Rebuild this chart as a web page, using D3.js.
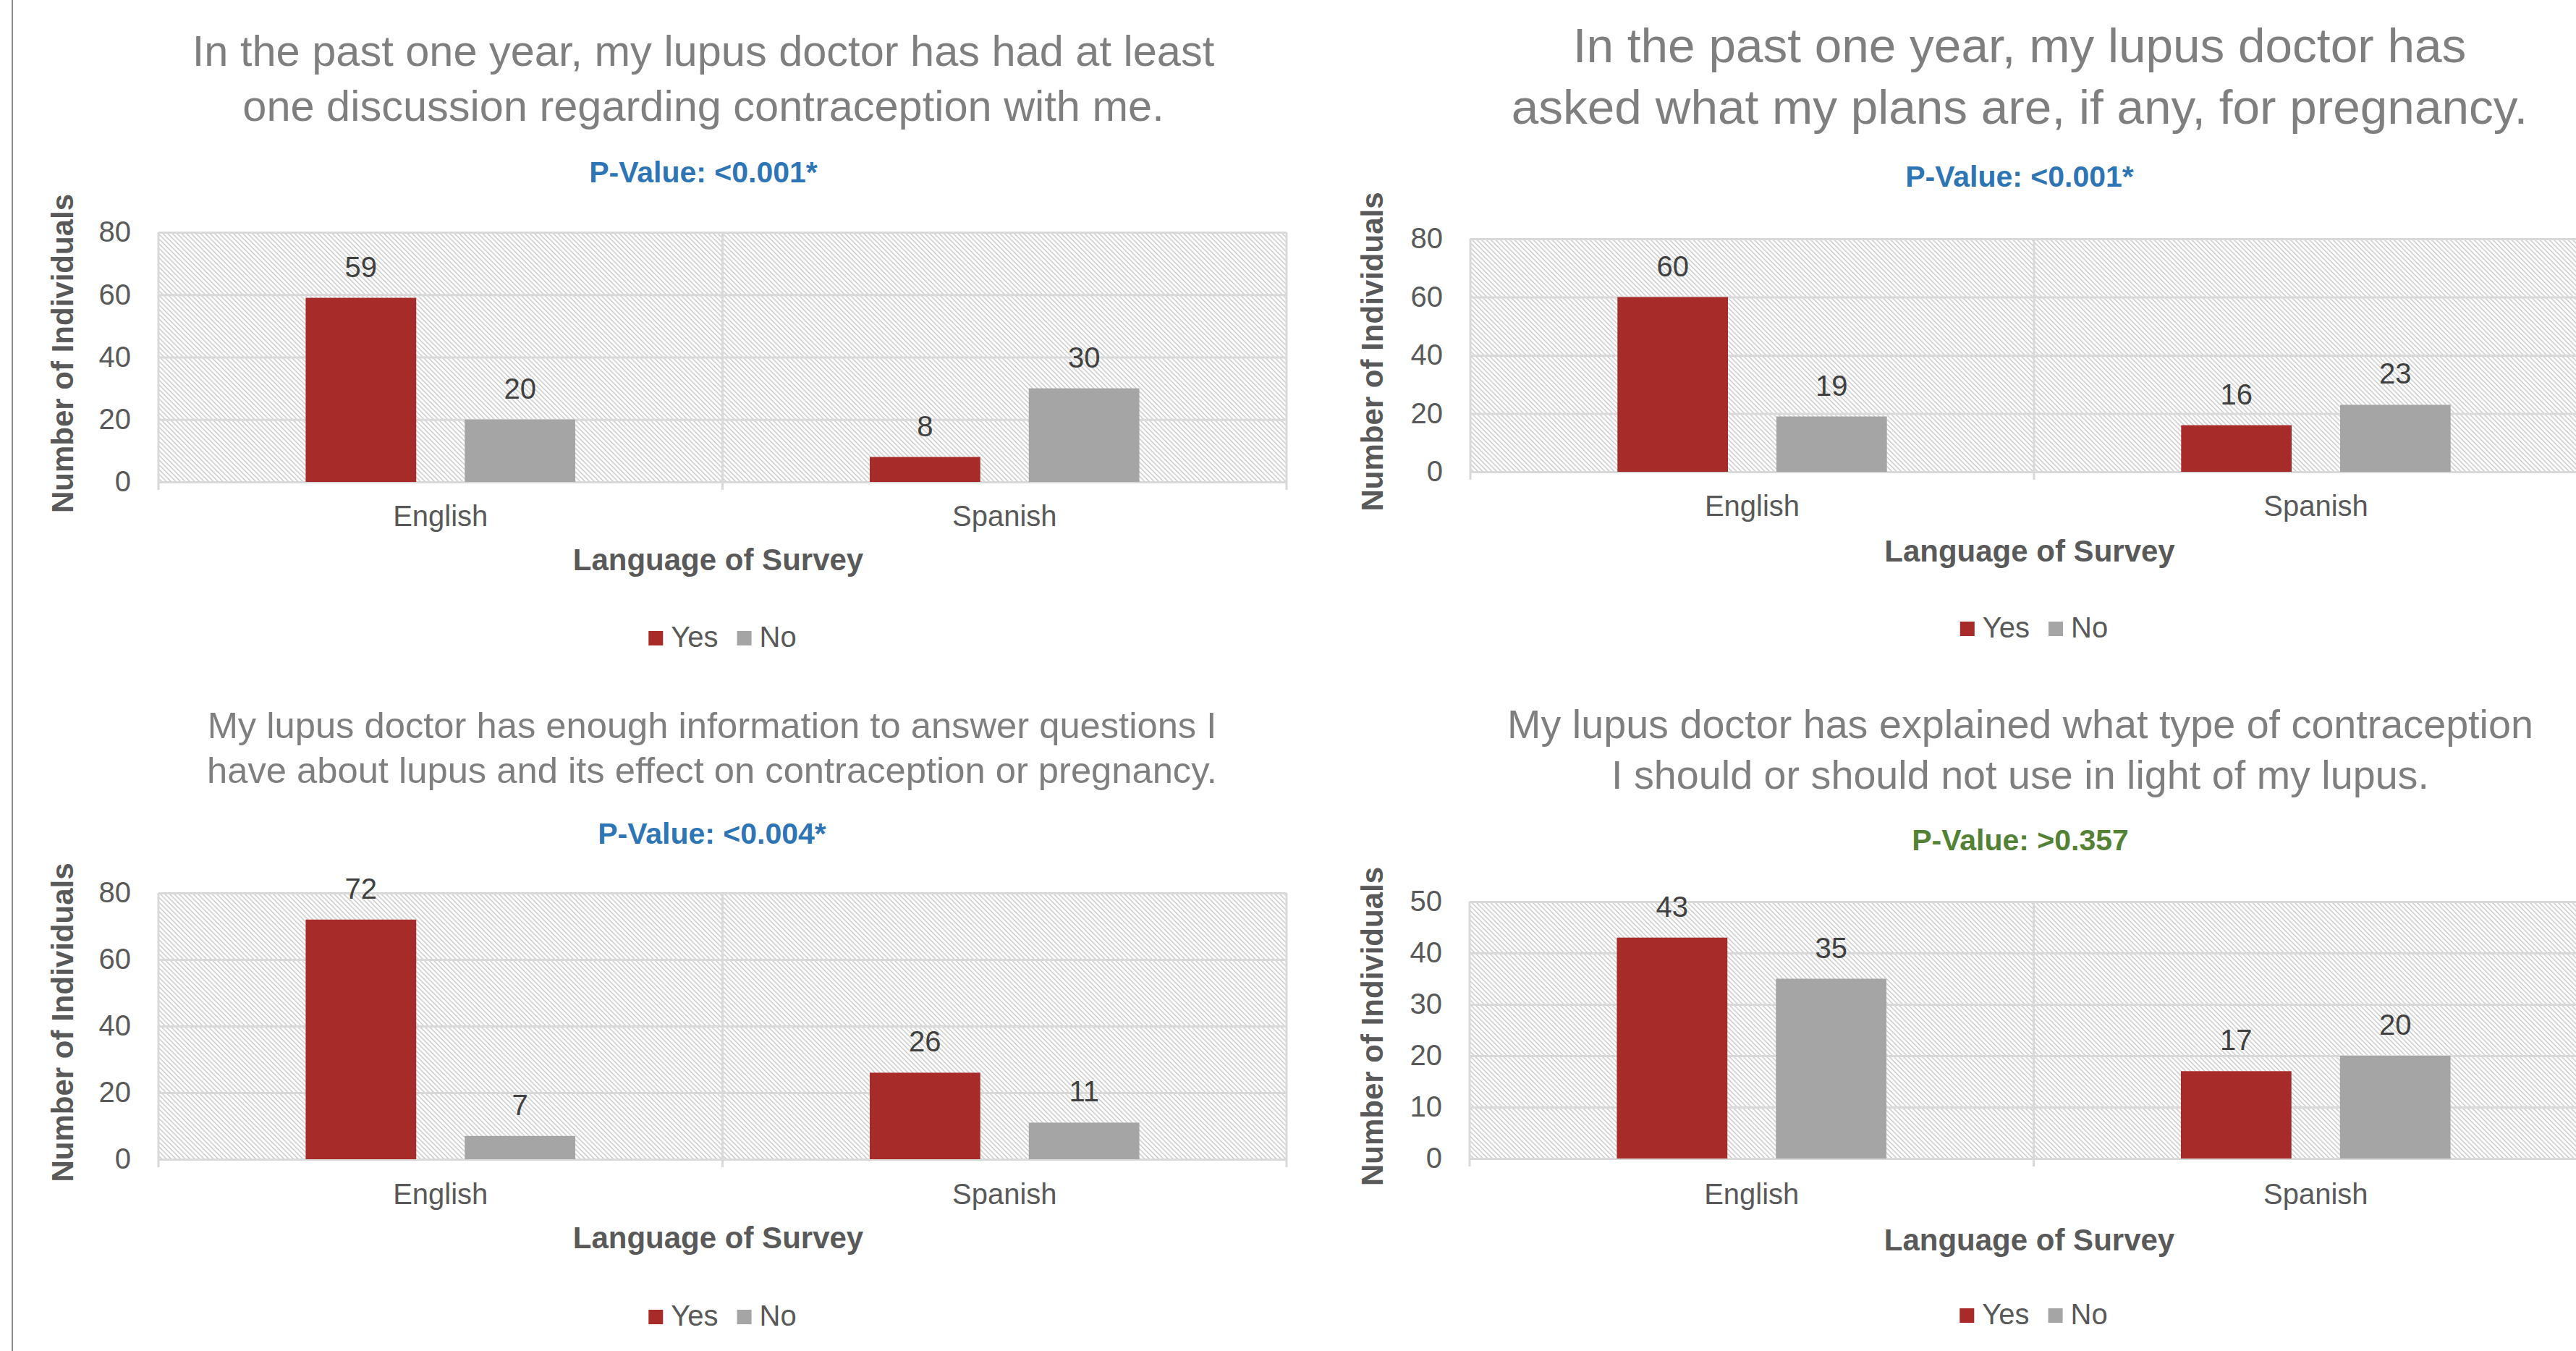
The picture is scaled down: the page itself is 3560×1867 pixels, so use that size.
<!DOCTYPE html>
<html>
<head>
<meta charset="utf-8">
<script src="https://cdn.jsdelivr.net/npm/d3@7"></script>
<style>
  body { margin: 0; background: #fff; }
  svg { display: block; font-family: "Liberation Sans", Arial, sans-serif; }
</style>
</head>
<body>
<div id="chart"></div>
<script>
// Values
const categories = ["English", "Spanish"];
const seriesNames = ["Yes", "No"];
const chartTitles = [
  ["In the past one year, my lupus doctor has had at least", "one discussion regarding contraception with me."],
  ["In the past one year, my lupus doctor has", "asked what my plans are, if any, for pregnancy."],
  ["My lupus doctor has enough information to answer questions I", "have about lupus and its effect on contraception or pregnancy."],
  ["My lupus doctor has explained what type of contraception", "I should or should not use in light of my lupus."]
];
const pValueLabels = ["P-Value: <0.001*", "P-Value: <0.001*", "P-Value: <0.004*", "P-Value: >0.357"];
const yesCounts = [[59, 8], [60, 16], [72, 26], [43, 17]];
const noCounts = [[20, 30], [19, 23], [7, 11], [35, 20]];
const yTickValues = [
  [0, 20, 40, 60, 80],
  [0, 20, 40, 60, 80],
  [0, 20, 40, 60, 80],
  [0, 10, 20, 30, 40, 50]
];
const xAxisTitle = "Language of Survey";
const yAxisTitle = "Number of Individuals";

// Layout (pixels in the 3560x1867 page)
const W = 3560, H = 1867;
const color = d3.scaleOrdinal().domain(seriesNames).range(["#a72b28", "#a5a5a5"]);
const pColors = ["#2e75b6", "#2e75b6", "#2e75b6", "#548235"];
const panels = [
  { left: 219, right: 1778, top: 321, bottom: 666, cx: 972, titleY: [91, 167], titleSize: 59.5, pY: 252, yTitleX: 86, xLabelY: 727, xTitleY: 788, legendY: 894 },
  { left: 2032, right: 3590, top: 330, bottom: 652, cx: 2791, titleY: [86, 171], titleSize: 67.5, pY: 258, yTitleX: 1896, xLabelY: 713, xTitleY: 776, legendY: 881 },
  { left: 219, right: 1778, top: 1234, bottom: 1602, cx: 984, titleY: [1020, 1082], titleSize: 50.7, pY: 1166, yTitleX: 86, xLabelY: 1664, xTitleY: 1725, legendY: 1832 },
  { left: 2031, right: 3590, top: 1246, bottom: 1601, cx: 2792, titleY: [1020, 1090], titleSize: 55.7, pY: 1175, yTitleX: 1896, xLabelY: 1664, xTitleY: 1728, legendY: 1830 }
];
const labelSize = 40, boldSize = 42;

const svg = d3.select("#chart").append("svg")
  .attr("width", W)
  .attr("height", H);

svg.append("rect").attr("width", W).attr("height", H).attr("fill", "#fff");

// diagonal hatch used as plot area fill
const hatch = svg.append("defs").append("pattern")
  .attr("id", "hatch")
  .attr("patternUnits", "userSpaceOnUse")
  .attr("width", 6.5)
  .attr("height", 6.5);
hatch.append("rect").attr("width", 6.5).attr("height", 6.5).attr("fill", "#fff");
hatch.append("path")
  .attr("d", "M-1,-1 L7.5,7.5 M-1,5.5 L1,7.5 M5.5,-1 L7.5,1")
  .attr("stroke", "#c6c6c6")
  .attr("stroke-width", 1.4);

// thin frame line on the left edge
svg.append("line")
  .attr("x1", 17).attr("x2", 17)
  .attr("y1", 0).attr("y2", H)
  .attr("stroke", "#8c8c8c")
  .attr("stroke-width", 2);

function drawPanel(i) {
  const p = panels[i];
  const g = svg.append("g").attr("class", "panel");
  const data = categories.map((c, j) => ({ category: c, values: [
    { series: "Yes", value: yesCounts[i][j] },
    { series: "No", value: noCounts[i][j] }
  ] }));
  const ticks = yTickValues[i];

  const x0 = d3.scaleBand().domain(categories).range([p.left, p.right]);
  const x1 = d3.scaleBand().domain(seriesNames)
    .range([0, x0.bandwidth()])
    .paddingInner(0.305)
    .paddingOuter(0.9255);
  const y = d3.scaleLinear().domain([0, d3.max(ticks)]).range([p.bottom, p.top]);

  // titles
  g.selectAll(".title")
    .data(chartTitles[i])
    .enter().append("text")
    .attr("class", "title")
    .attr("x", p.cx)
    .attr("y", (d, k) => p.titleY[k])
    .attr("text-anchor", "middle")
    .style("font-size", p.titleSize + "px")
    .attr("fill", "#7f7f7f")
    .text(d => d);

  g.append("text")
    .attr("x", p.cx)
    .attr("y", p.pY)
    .attr("text-anchor", "middle")
    .style("font-size", "41px")
    .style("font-weight", "bold")
    .attr("fill", pColors[i])
    .text(pValueLabels[i]);

  // plot background
  g.append("rect")
    .attr("x", p.left)
    .attr("y", p.top)
    .attr("width", p.right - p.left)
    .attr("height", p.bottom - p.top)
    .attr("fill", "url(#hatch)");

  // horizontal gridlines
  const grid = g.append("g")
    .attr("transform", "translate(" + p.left + ",0)")
    .call(d3.axisLeft(y).tickValues(ticks).tickSize(-(p.right - p.left)).tickFormat(""));
  grid.select(".domain").remove();
  grid.selectAll("line").attr("stroke", "#d9d9d9").attr("stroke-width", 3);

  // category separators with small ticks below the axis
  const edges = categories.map(c => x0(c)).concat([p.right]);
  g.selectAll(".sep")
    .data(edges)
    .enter().append("line")
    .attr("class", "sep")
    .attr("x1", d => d).attr("x2", d => d)
    .attr("y1", p.top).attr("y2", p.bottom + 11)
    .attr("stroke", "#d9d9d9")
    .attr("stroke-width", 3);

  // bars
  const groups = g.selectAll(".group")
    .data(data)
    .enter().append("g")
    .attr("class", "group")
    .attr("transform", d => "translate(" + x0(d.category) + ",0)");

  groups.selectAll("rect")
    .data(d => d.values)
    .enter().append("rect")
    .attr("x", d => x1(d.series))
    .attr("y", d => y(d.value))
    .attr("width", x1.bandwidth())
    .attr("height", d => y(0) - y(d.value))
    .attr("fill", d => color(d.series));

  groups.selectAll(".val")
    .data(d => d.values)
    .enter().append("text")
    .attr("class", "val")
    .attr("x", d => x1(d.series) + x1.bandwidth() / 2)
    .attr("y", d => y(d.value) - 29)
    .attr("text-anchor", "middle")
    .style("font-size", labelSize + "px")
    .attr("fill", "#404040")
    .text(d => d.value);

  // y tick labels
  const yAxis = g.append("g")
    .attr("transform", "translate(" + p.left + ",0)")
    .call(d3.axisLeft(y).tickValues(ticks).tickSize(0).tickPadding(38));
  yAxis.select(".domain").remove();
  yAxis.selectAll("text")
    .style("font-size", labelSize + "px")
    .style("font-family", "\"Liberation Sans\", Arial, sans-serif")
    .attr("fill", "#595959");

  // x category labels
  const xAxis = g.append("g")
    .attr("transform", "translate(0," + p.bottom + ")")
    .call(d3.axisBottom(x0).tickSize(0).tickPadding(p.xLabelY - p.bottom - 0.71 * labelSize));
  xAxis.select(".domain").remove();
  xAxis.selectAll("text")
    .style("font-size", labelSize + "px")
    .style("font-family", "\"Liberation Sans\", Arial, sans-serif")
    .attr("fill", "#595959");

  const plotMid = (p.left + p.right) / 2;
  g.append("text")
    .attr("x", plotMid - 6)
    .attr("y", p.xTitleY)
    .attr("text-anchor", "middle")
    .style("font-size", boldSize + "px")
    .style("font-weight", "bold")
    .attr("fill", "#595959")
    .text(xAxisTitle);

  g.append("text")
    .attr("transform", "translate(" + p.yTitleX + "," + ((p.top + p.bottom) / 2 - 5) + ") rotate(-90)")
    .attr("text-anchor", "middle")
    .attr("dy", "0.35em")
    .style("font-size", boldSize + "px")
    .style("font-weight", "bold")
    .attr("fill", "#595959")
    .text(yAxisTitle);

  // legend
  const legend = g.append("g");
  const items = legend.selectAll(".item")
    .data(seriesNames)
    .enter().append("g")
    .attr("class", "item");
  items.append("rect")
    .attr("width", 20).attr("height", 20)
    .attr("y", p.legendY - 22)
    .attr("fill", d => color(d));
  items.append("text")
    .attr("x", 31)
    .attr("y", p.legendY)
    .style("font-size", labelSize + "px")
    .attr("fill", "#595959")
    .text(d => d);
  let widths = [];
  items.each(function() { widths.push(31 + d3.select(this).select("text").node().getComputedTextLength()); });
  const total = d3.sum(widths) + 26;
  let cursor = plotMid - total / 2;
  items.attr("transform", (d, k) => {
    const t = "translate(" + cursor + ",0)";
    cursor += widths[k] + 26;
    return t;
  });
}

panels.forEach((p, i) => drawPanel(i));
</script>
</body>
</html>
